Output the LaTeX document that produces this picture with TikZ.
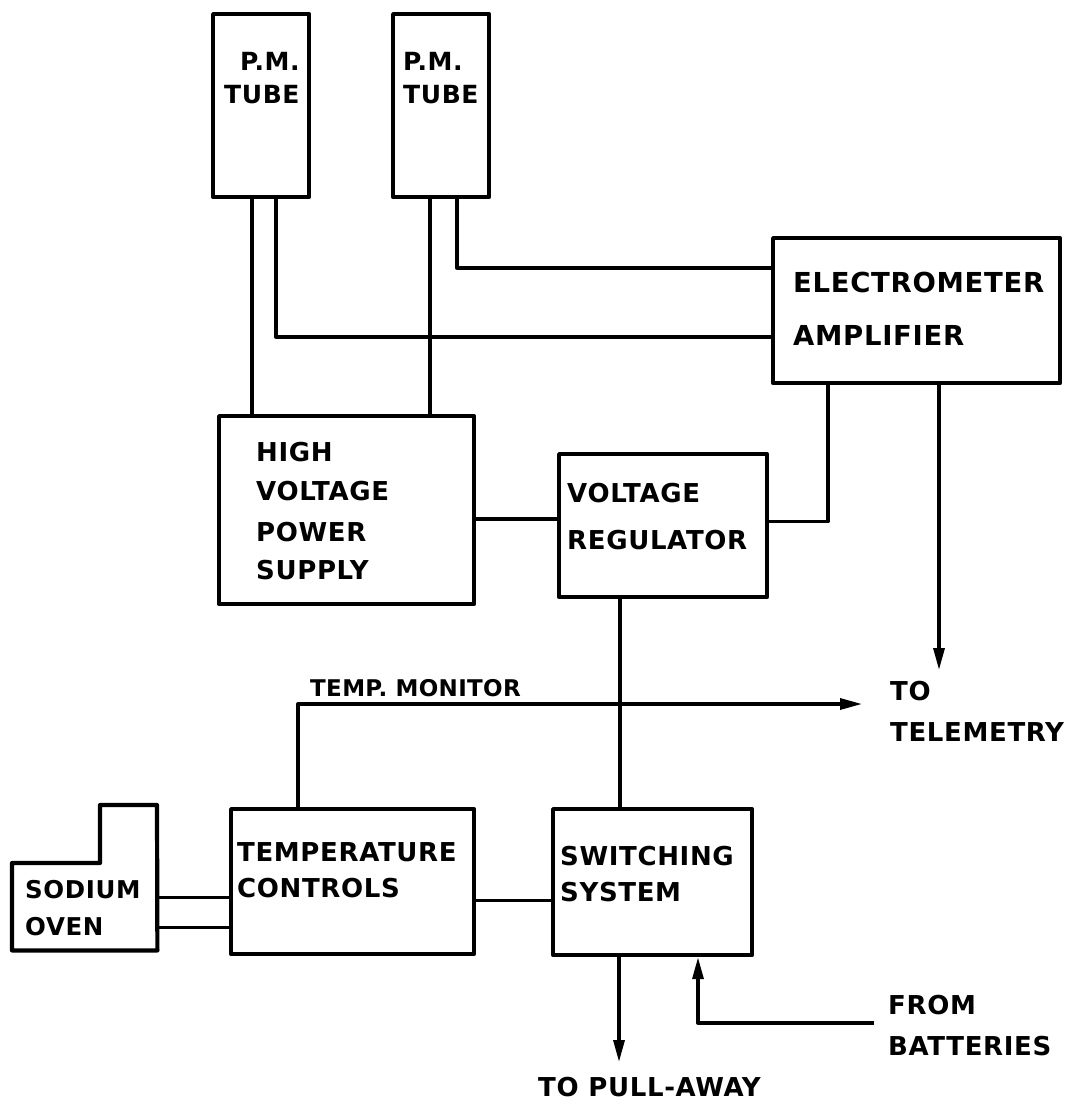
\documentclass[tikz,border=0pt]{standalone}
\usepackage{fontspec}
\setmainfont{DejaVu Sans}[LetterSpace=2.5]
\newfontfamily\tmfont{DejaVu Sans}[LetterSpace=1.5]
\usetikzlibrary{arrows.meta}
\begin{document}
\begin{tikzpicture}[x=1pt,y=-1pt,
  box/.style={draw, line width=4.2pt, line join=round, inner sep=0pt, anchor=north west},
  conn/.style={line width=3.3pt, line join=round},
  arr/.style={conn, -{Triangle[length=22pt,width=11pt]}},
  lab/.style={inner sep=0pt, anchor=west, font=\bfseries\fontsize{26}{30}\selectfont},
  oventext/.style={lab, font=\bfseries\fontsize{24.5}{30}\selectfont},
  tubetext/.style={lab, font=\bfseries\fontsize{25}{30}\selectfont},
  biglab/.style={lab, font=\bfseries\fontsize{27.5}{32}\selectfont},
  smalllab/.style={inner sep=0pt, anchor=west, font=\tmfont\bfseries\fontsize{23}{28}\selectfont}]
\fill[white] (0,0) rectangle (1083,1113);
\useasboundingbox (0,0) rectangle (1083,1113);

% boxes
\node[box, minimum width=96pt,  minimum height=183pt] (t1) at (211,12) {};
\node[box, minimum width=96pt,  minimum height=183pt] (t2) at (391,12) {};
\node[box, minimum width=287pt, minimum height=145pt] (ea) at (771,236) {};
\node[box, minimum width=255pt, minimum height=188pt] (hv) at (217,414) {};
\node[box, minimum width=208pt, minimum height=143pt] (vr) at (557,452) {};
\node[box, minimum width=243pt, minimum height=145pt] (tc) at (229,807) {};
\node[box, minimum width=199pt, minimum height=146pt] (ss) at (551,807) {};
\node[inner sep=0pt, anchor=north west, minimum width=145pt, minimum height=87pt] (ov) at (12,863) {};
\draw[line width=4.2pt, line join=round] (ov.north west) -- (100,863) -- (100,805) -- (157,805) -- (ov.south east) -- (ov.south west) -- cycle;

% texts
\node[tubetext] (t1a) at (240,61) {P.M.};
\node[tubetext] (t1b) at (224,95) {TUBE};
\node[tubetext] (t2a) at (403,61) {P.M.};
\node[tubetext] (t2b) at (403,95) {TUBE};
\node[biglab] (ea1) at (793,282) {ELECTROMETER};
\node[biglab] (ea2) at (793,335) {AMPLIFIER};
\node[lab] (hv1) at (256,452) {HIGH};
\node[lab] (hv2) at (256,491) {VOLTAGE};
\node[lab] (hv3) at (256,532) {POWER};
\node[lab] (hv4) at (256,570) {SUPPLY};
\node[lab] (vr1) at (567,493) {VOLTAGE};
\node[lab] (vr2) at (567,540) {REGULATOR};
\node[lab] (tc1) at (237,852) {TEMPERATURE};
\node[lab] (tc2) at (237,888) {CONTROLS};
\node[lab] (ss1) at (560,856) {SWITCHING};
\node[lab] (ss2) at (560,892) {SYSTEM};
\node[oventext] (ov1) at (25,890) {SODIUM};
\node[oventext] (ov2) at (25,927) {OVEN};
\node[smalllab] (tmt) at (310,688) {TEMP. MONITOR};
\node[lab] (to1) at (890,691) {TO};
\node[lab] (to2) at (890,732) {TELEMETRY};
\node[lab] (fb1) at (888,1005) {FROM};
\node[lab] (fb2) at (888,1046) {BATTERIES};
\node[lab] (pa) at (538,1087) {TO PULL-AWAY};

% connector points
\path ([xshift=41pt]t1.south west) coordinate (a1)
      ([xshift=65pt]t1.south west) coordinate (a2)
      ([xshift=39pt]t2.south west) coordinate (b1)
      ([xshift=66pt]t2.south west) coordinate (b2)
      ([yshift=-101pt]ea.north west) coordinate (e1)
      ([yshift=-32pt]ea.north west) coordinate (e2)
      ([xshift=57pt]ea.south west) coordinate (e3)
      ([xshift=168pt]ea.south west) coordinate (e4)
      ([yshift=4pt]vr.east) coordinate (v1)
      ([yshift=-9pt]hv.east) coordinate (h1)
      ([xshift=63pt]vr.south west) coordinate (v2)
      ([xshift=69pt]tc.north west) coordinate (c1)
      ([yshift=9.5pt]ov.east) coordinate (o1)
      ([yshift=-20.5pt]ov.east) coordinate (o2)
      ([yshift=-19pt]tc.east) coordinate (c2)
      ([xshift=68pt]ss.south west) coordinate (s1)
      ([xshift=147pt]ss.south west) coordinate (s2);
\coordinate (tele) at (939,670);
\coordinate (tmon) at (862,704);
\coordinate (pull) at (619,1062);
\coordinate (batt) at (874,1023);

% connectors
\draw[conn] (a1) -- (a1 |- hv.north);
\draw[conn] (b1) -- (b1 |- hv.north);
\draw[conn] (a2) |- (e1);
\draw[conn] (b2) |- (e2);
\draw[conn] (e3) |- (v1);
\draw[arr] (e4) -- (tele);
\draw[conn] (h1) -- (h1 -| vr.west);
\draw[conn] (v2) -- (v2 |- ss.north);
\draw[arr] (c1) |- (tmon);
\draw[conn] (o1) -- (o1 -| tc.west);
\draw[conn] (o2) -- (o2 -| tc.west);
\draw[conn] (c2) -- (c2 -| ss.west);
\draw[arr] (s1) -- (pull);
\draw[arr] (batt) -| (s2);
\end{tikzpicture}
\end{document}
